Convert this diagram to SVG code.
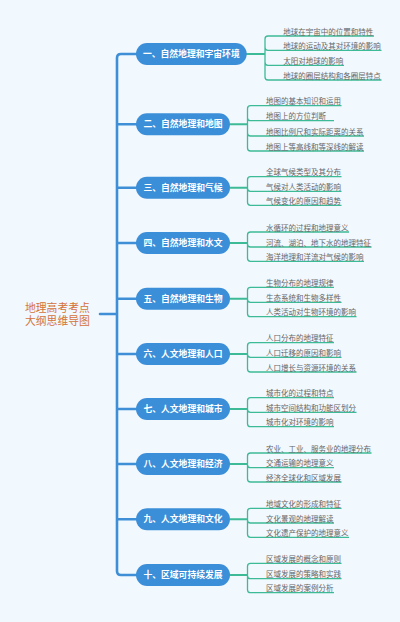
<svg xmlns="http://www.w3.org/2000/svg" width="400" height="622" viewBox="0 0 400 622">
<style>
.bg{fill:#f1f8fe}
.pill{fill:#3b8ed8}
.pt{fill:#ffffff;font-family:"Noto Sans CJK SC","Noto Sans",sans-serif;font-size:8.8px;font-weight:bold;text-anchor:middle}
.lt{fill:#666666;font-family:"Noto Sans CJK SC","Noto Sans",sans-serif;font-size:7.5px}
.root{fill:#d4733a;font-family:"Liberation Sans","Noto Sans CJK SC",sans-serif;font-size:10.8px}
.trunk{fill:none;stroke:#3f8fd6;stroke-width:2.6;stroke-linecap:round}
.lk{fill:none;stroke:#3dba96;stroke-width:1.3}
.lk2{fill:none;stroke:#3dba96;stroke-width:2}
</style>
<rect class="bg" x="0" y="0" width="400" height="622"/>
<g id="connectors">
<path class="trunk" d="M100,314 H117 M117,314 V58 Q117,54 121,54 H137 M117,124.3 H137 M117,187.7 H137 M117,243 H137 M117,298.7 H137 M117,354 H137 M117,409 H137 M117,464 H137 M117,519.3 H137 M117,314 V571 Q117,575 121,575 H137"/>
<path class="lk2" d="M246,54 H265 M230,124.3 H247.5 M230,187.7 H247.5 M230,243 H247.5 M230,298.7 H247.5 M230,354 H247.5 M230,409 H247.5 M230,464 H247.5 M230,519.3 H247.5 M230,575 H247.5"/>
<path class="lk" d="M265,54 V39 Q265,36 268,36 H374 M265,54 V47.3 Q265,50.3 268,50.3 H381.5 M265,54 V62.3 Q265,65.3 268,65.3 H344 M265,54 V77 Q265,80 268,80 H381.5"/>
<path class="lk" d="M247.5,124.3 V108.7 Q247.5,105.7 250.5,105.7 H341.5 M247.5,124.3 V117.7 Q247.5,120.7 250.5,120.7 H334 M247.5,124.3 V133 Q247.5,136 250.5,136 H364 M247.5,124.3 V148 Q247.5,151 250.5,151 H364"/>
<path class="lk" d="M247.5,187.7 V179.7 Q247.5,176.7 250.5,176.7 H341.5 M247.5,187.7 V188.3 Q247.5,191.3 250.5,191.3 H341.5 M247.5,187.7 V202.3 Q247.5,205.3 250.5,205.3 H341.5"/>
<path class="lk" d="M247.5,243 V235 Q247.5,232 250.5,232 H349 M247.5,243 V244 Q247.5,247 250.5,247 H371.5 M247.5,243 V258.3 Q247.5,261.3 250.5,261.3 H364"/>
<path class="lk" d="M247.5,298.7 V290.3 Q247.5,287.3 250.5,287.3 H334 M247.5,298.7 V299.3 Q247.5,302.3 250.5,302.3 H341.5 M247.5,298.7 V313.7 Q247.5,316.7 250.5,316.7 H356.5"/>
<path class="lk" d="M247.5,354 V345.7 Q247.5,342.7 250.5,342.7 H334 M247.5,354 V354.3 Q247.5,357.3 250.5,357.3 H341.5 M247.5,354 V369 Q247.5,372 250.5,372 H356.5"/>
<path class="lk" d="M247.5,409 V400.7 Q247.5,397.7 250.5,397.7 H334 M247.5,409 V409.3 Q247.5,412.3 250.5,412.3 H356.5 M247.5,409 V423.7 Q247.5,426.7 250.5,426.7 H334"/>
<path class="lk" d="M247.5,464 V456 Q247.5,453 250.5,453 H371.5 M247.5,464 V464.7 Q247.5,467.7 250.5,467.7 H334 M247.5,464 V479 Q247.5,482 250.5,482 H341.5"/>
<path class="lk" d="M247.5,519.3 V511.3 Q247.5,508.3 250.5,508.3 H341.5 M247.5,519.3 V520 Q247.5,523 250.5,523 H334 M247.5,519.3 V534.3 Q247.5,537.3 250.5,537.3 H349"/>
<path class="lk" d="M247.5,575 V566.3 Q247.5,563.3 250.5,563.3 H341.5 M247.5,575 V575.7 Q247.5,578.7 250.5,578.7 H341.5 M247.5,575 V589.7 Q247.5,592.7 250.5,592.7 H334"/>
</g>
<g id="root"><text class="root" x="25" y="312">地理高考考点</text><text class="root" x="25" y="324.8">大纲思维导图</text></g>
<g id="b1"><rect class="pill" x="136" y="43" width="110.7" height="22" rx="11"/><text class="pt" x="191.3" y="57.1">一、自然地理和宇宙环境</text>
<text class="lt" x="283.3" y="34.5">地球在宇宙中的位置和特性</text><text class="lt" x="283.3" y="48.8">地球的运动及其对环境的影响</text><text class="lt" x="283.3" y="63.8">太阳对地球的影响</text><text class="lt" x="283.3" y="78.5">地球的圈层结构和各圈层特点</text></g>
<g id="b2"><rect class="pill" x="136" y="113.3" width="94" height="22" rx="11"/><text class="pt" x="183" y="127.4">二、自然地理和地图</text>
<text class="lt" x="266" y="104.2">地图的基本知识和运用</text><text class="lt" x="266" y="119.2">地图上的方位判断</text><text class="lt" x="266" y="134.5">地图比例尺和实际距离的关系</text><text class="lt" x="266" y="149.5">地图上等高线和等深线的解读</text></g>
<g id="b3"><rect class="pill" x="136" y="176.7" width="94" height="22" rx="11"/><text class="pt" x="183" y="190.8">三、自然地理和气候</text>
<text class="lt" x="266" y="175.2">全球气候类型及其分布</text><text class="lt" x="266" y="189.8">气候对人类活动的影响</text><text class="lt" x="266" y="203.8">气候变化的原因和趋势</text></g>
<g id="b4"><rect class="pill" x="136" y="232" width="94" height="22" rx="11"/><text class="pt" x="183" y="246.1">四、自然地理和水文</text>
<text class="lt" x="266" y="230.5">水循环的过程和地理意义</text><text class="lt" x="266" y="245.5">河流、湖泊、地下水的地理特征</text><text class="lt" x="266" y="259.8">海洋地理和洋流对气候的影响</text></g>
<g id="b5"><rect class="pill" x="136" y="287.7" width="94" height="22" rx="11"/><text class="pt" x="183" y="301.8">五、自然地理和生物</text>
<text class="lt" x="266" y="285.8">生物分布的地理规律</text><text class="lt" x="266" y="300.8">生态系统和生物多样性</text><text class="lt" x="266" y="315.2">人类活动对生物环境的影响</text></g>
<g id="b6"><rect class="pill" x="136" y="343" width="94" height="22" rx="11"/><text class="pt" x="183" y="357.1">六、人文地理和人口</text>
<text class="lt" x="266" y="341.2">人口分布的地理特征</text><text class="lt" x="266" y="355.8">人口迁移的原因和影响</text><text class="lt" x="266" y="370.5">人口增长与资源环境的关系</text></g>
<g id="b7"><rect class="pill" x="136" y="398" width="94" height="22" rx="11"/><text class="pt" x="183" y="412.1">七、人文地理和城市</text>
<text class="lt" x="266" y="396.2">城市化的过程和特点</text><text class="lt" x="266" y="410.8">城市空间结构和功能区划分</text><text class="lt" x="266" y="425.2">城市化对环境的影响</text></g>
<g id="b8"><rect class="pill" x="136" y="453" width="94" height="22" rx="11"/><text class="pt" x="183" y="467.1">八、人文地理和经济</text>
<text class="lt" x="266" y="451.5">农业、工业、服务业的地理分布</text><text class="lt" x="266" y="466.2">交通运输的地理意义</text><text class="lt" x="266" y="480.5">经济全球化和区域发展</text></g>
<g id="b9"><rect class="pill" x="136" y="508.3" width="94" height="22" rx="11"/><text class="pt" x="183" y="522.4">九、人文地理和文化</text>
<text class="lt" x="266" y="506.8">地域文化的形成和特征</text><text class="lt" x="266" y="521.5">文化景观的地理解读</text><text class="lt" x="266" y="535.8">文化遗产保护的地理意义</text></g>
<g id="b10"><rect class="pill" x="136" y="564" width="94" height="22" rx="11"/><text class="pt" x="183" y="578.1">十、区域可持续发展</text>
<text class="lt" x="266" y="561.8">区域发展的概念和原则</text><text class="lt" x="266" y="577.2">区域发展的策略和实践</text><text class="lt" x="266" y="591.2">区域发展的案例分析</text></g>
</svg>
